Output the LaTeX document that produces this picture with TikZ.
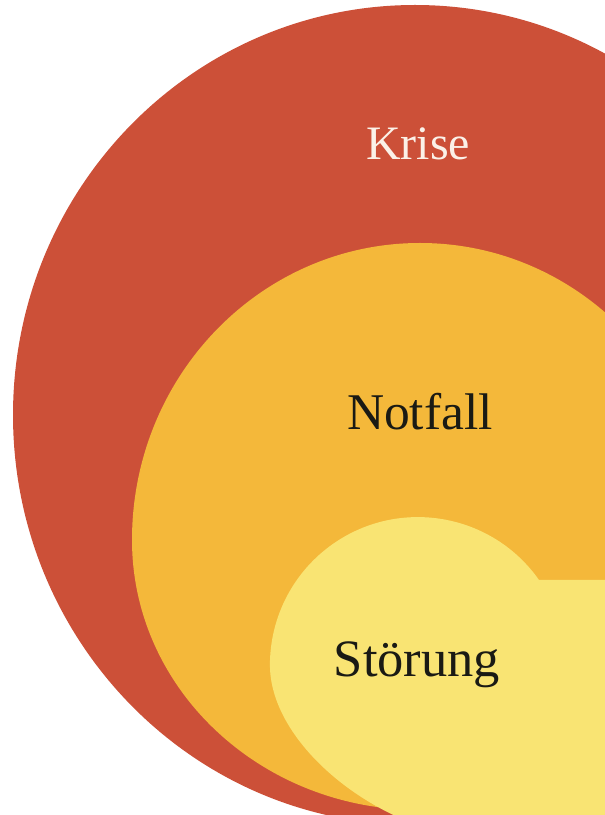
\documentclass[tikz,border=0pt]{standalone}
\usepackage{fontspec}
\newfontfamily\labelfont{Liberation Serif}
\definecolor{krisefill}{HTML}{CC5038}
\definecolor{notfallfill}{HTML}{F4B83A}
\definecolor{stoerfill}{HTML}{F9E473}
\definecolor{lighttext}{HTML}{FBF1E8}
\definecolor{darktext}{HTML}{1A1A14}
\newcommand{\labelsize}[1]{\labelfont\fontsize{#1}{#1}\selectfont}
\begin{document}
\begin{tikzpicture}[x=1pt,y=1pt,
  lbl/.style={anchor=base, inner sep=0pt}]
\useasboundingbox (0,0) rectangle (605,815);
\clip (0,0) rectangle (605,815);
% outer zone: Krise
\fill[krisefill] (415,400) ellipse[x radius=402, y radius=410];
% middle zone: Notfall
\fill[notfallfill] (132,275)
  arc[start angle=180, end angle=0, x radius=288, y radius=297]
  arc[start angle=0, end angle=-180, x radius=288, y radius=270] -- cycle;
% inner zone: Störung
\fill[stoerfill] (650,235) -- (539,235)
  arc[start angle=35.1, end angle=180, radius=148]
  .. controls (270,90) and (330,28) .. (400,-3) -- (650,-3) -- cycle;
% labels
\node[lbl, text=lighttext, font=\labelsize{48}] (krise) at (418,655) {Krise};
\node[lbl, text=darktext, font=\labelsize{51.5}] (notfall) at (420,385) {Notfall};
\node[lbl, text=darktext, font=\labelsize{52.5}] (stoerung) at (417,138) {Störung};
\end{tikzpicture}
\end{document}
